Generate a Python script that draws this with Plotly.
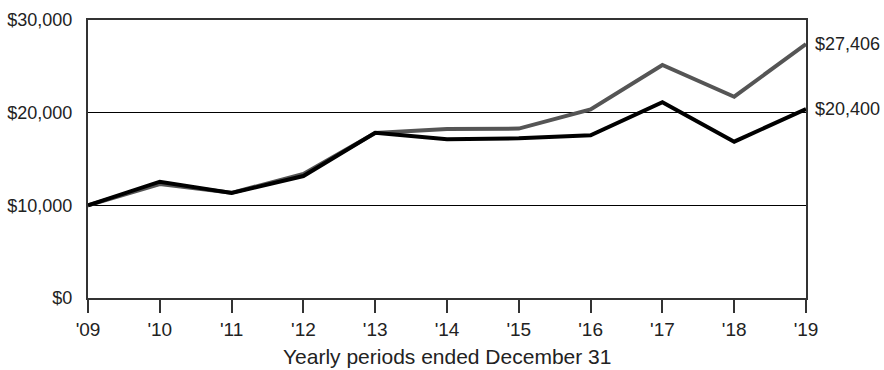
import plotly.graph_objects as go

years = [2009, 2010, 2011, 2012, 2013, 2014, 2015, 2016, 2017, 2018, 2019]
tick_labels = ["'09", "'10", "'11", "'12", "'13", "'14", "'15", "'16", "'17", "'18", "'19"]
gray_values = [10000, 12300, 11350, 13380, 17800, 18240, 18280, 20360, 25140, 21720, 27406]
black_values = [10000, 12550, 11330, 13160, 17820, 17120, 17230, 17560, 21120, 16870, 20400]
y_ticks = [0, 10000, 20000, 30000]
y_labels = ["$0", "$10,000", "$20,000", "$30,000"]
x_title = "Yearly periods ended December 31"

FONT = "Liberation Sans, Arial, sans-serif"
W, H = 884, 370
ML, MR, MT, MB = 88, 78, 20, 72

fig = go.Figure()
fig.add_trace(go.Scatter(x=years, y=gray_values, mode="lines",
                         line=dict(color="#555555", width=4), cliponaxis=False,
                         hoverinfo="skip"))
fig.add_trace(go.Scatter(x=years, y=black_values, mode="lines",
                         line=dict(color="#000000", width=4), cliponaxis=False,
                         hoverinfo="skip"))

for vals in (gray_values, black_values):
    fig.add_annotation(x=years[-1], y=vals[-1], text=f"${vals[-1]:,}",
                       xanchor="left", yanchor="middle", xshift=7, showarrow=False,
                       font=dict(family=FONT, size=18, color="#222222"))

plot_h = H - MT - MB
fig.add_annotation(xref="paper", yref="paper", x=0.5, y=-(356 - (H - MB)) / plot_h,
                   text=x_title, showarrow=False, xanchor="center", yanchor="middle",
                   font=dict(family=FONT, size=21, color="#222222"))

fig.update_layout(
    width=W, height=H,
    margin=dict(l=ML, r=MR, t=MT, b=MB),
    paper_bgcolor="white", plot_bgcolor="white",
    showlegend=False,
    font=dict(family=FONT, size=18, color="#222222"),
    xaxis=dict(range=[years[0], years[-1]], tickvals=years, ticktext=tick_labels,
               ticks="outside", ticklen=13, tickwidth=2, tickcolor="#333333",
               tickfont=dict(size=19), automargin=False,
               showgrid=False, zeroline=False, showline=True, linecolor="#333333",
               linewidth=2, mirror=True),
    yaxis=dict(range=[0, 30000], tickvals=y_ticks, ticktext=y_labels,
               showgrid=True, gridcolor="#000000", gridwidth=1, zeroline=False,
               showline=True, linecolor="#333333", linewidth=2, mirror=True,
               ticks="", ticklabelstandoff=10, automargin=False),
)

fig.write_html("out.html")
